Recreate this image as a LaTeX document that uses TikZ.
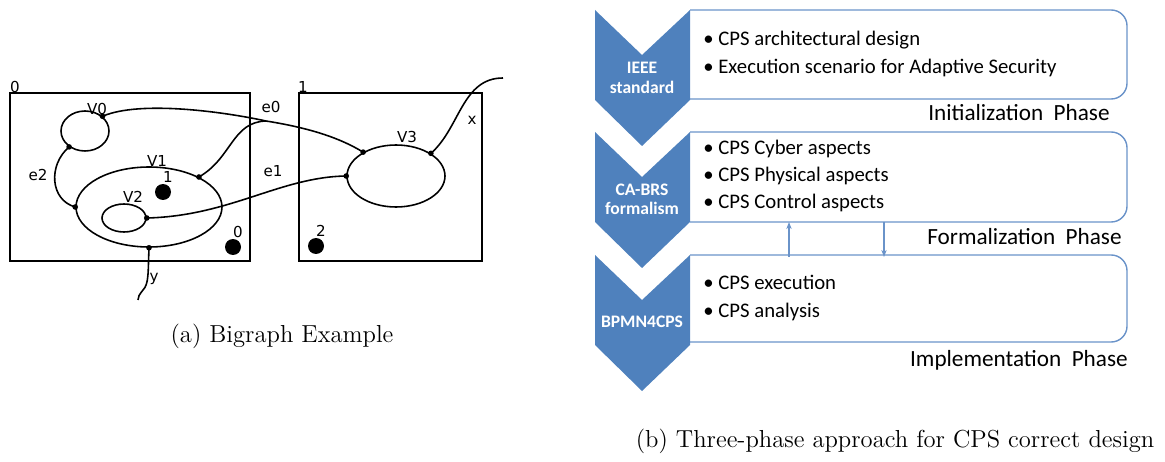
\documentclass[tikz,border=0pt]{standalone}
\usepackage{fontspec}
\newfontfamily\calibrifont{Carlito}
\newfontfamily\dejavufont{DejaVu Sans}
\usepackage{xcolor}
\usetikzlibrary{shapes,arrows,positioning,calc,arrows.meta}
\definecolor{chevblue}{HTML}{4F81BD}
\definecolor{boxblue}{HTML}{6A93C9}

\begin{document}
\begin{tikzpicture}[x=0.02cm, y=-0.02cm,
    place/.style={ellipse, draw, line width=0.9pt, inner sep=0pt},
    site/.style={circle, fill=black, inner sep=0pt, minimum size=0.32cm},
    link/.style={line width=0.9pt},
    lbl/.style={font=\dejavufont\fontsize{8.6}{10}\selectfont, inner sep=0pt},
    chev/.style={fill=chevblue, draw=none},
    chevtext/.style={text=white, align=center, font=\calibrifont\bfseries\fontsize{10}{11}\selectfont},
    phasebox/.style={draw=boxblue, line width=0.8pt, rounded corners=9pt},
    items/.style={anchor=west, align=left, inner sep=0pt, font=\calibrifont\fontsize{11.8}{15.4}\selectfont},
    phase/.style={anchor=east, inner sep=0pt, font=\calibrifont\fontsize{13.2}{15}\selectfont},
    arr/.style={boxblue, line width=0.8pt, -{Stealth[length=4pt, width=3pt]}},
    capt/.style={font=\fontsize{14}{17}\selectfont}]
    \useasboundingbox (0,0) rectangle (1165,462);

    % (a) bigraph: roots
    \draw[link] (10,93) rectangle (250,261); \node[lbl] (r0) at (15,87) {0};
    \draw[link] (299,93) rectangle (482,261); \node[lbl] (r1) at (303,87) {1};

    % nodes and sites
    \node[place, minimum width=0.96cm, minimum height=0.8cm] (v0) at (85,131) {};
    \node[place, minimum width=2.92cm, minimum height=1.6cm] (v1) at (149,207) {};
    \node[place, minimum width=0.88cm, minimum height=0.56cm] (v2) at (124,218) {};
    \node[place, minimum width=1.96cm, minimum height=1.24cm] (v3) at (396,176) {};
    \node[lbl] at (97,109) {V0}; \node[lbl] at (157,161) {V1};
    \node[lbl] at (133,197) {V2}; \node[lbl] at (407,137) {V3};
    \node[site] (s1) at (163,192) {}; \node[lbl] at (168,177) {1};
    \node[site] (s0) at (233,247) {}; \node[lbl] at (238,232) {0};
    \node[site] (s2) at (316,246) {}; \node[lbl] at (321,231) {2};

    % links
    \coordinate (e0j) at (266,121);
    \coordinate (xname) at (503,78);
    \coordinate (yname) at (138,300);
    \draw[link] (v0.40) .. controls (140,100) and (225,112) .. (e0j) .. controls (310,128) and (340,138) .. (v3.144);
    \draw[link] (v1.31) .. controls (232,158) and (232,122) .. (e0j);
    \draw[link] (v2.0) .. controls (230,216) and (280,177) .. (v3.180);
    \draw[link] (v0.225) .. controls (48,165) and (50,200) .. (v1.180);
    \draw[link] (v3.33) .. controls (460,128) and (462,78) .. (xname);
    \draw[link] (v1.270) .. controls (148,272) and (149,284) .. (143,290) .. controls (139,295) and (138,297) .. (yname);
    \foreach \p in {v0.40, v0.225, v1.31, v1.180, v1.270, v2.0, v3.144, v3.33, v3.180}
        \fill (\p) circle (1.6pt);
    \node[lbl] at (271,107) {e0}; \node[lbl] at (273,171) {e1};
    \node[lbl] at (38,175) {e2}; \node[lbl] at (472,120) {x};
    \node[lbl] at (154,279) {y};

    % (b) three phases
    \foreach \t/\b in {10/99, 132/222, 255/342}
        \draw[phasebox] (690,\t) -- (1127,\t) -- (1127,\b) -- (690,\b);
    \foreach \t in {10, 132, 255}
        \fill[chev] (595,\t) -- (642,\t+45) -- (690,\t) -- (690,\t+90) -- (642,\t+136) -- (595,\t+90) -- cycle;
    \node[chevtext] (ieee) at (642,78) {IEEE\\standard};
    \node[chevtext] (cabrs) at (642,199) {CA-BRS\\formalism};
    \node[chevtext] (bpmn) at (642,322) {BPMN4CPS};

    \node[items] (init) at (703,54) {\textbullet\ CPS architectural design\\\textbullet\ Execution scenario for Adaptive Security};
    \node[items] (form) at (703,176) {\textbullet\ CPS Cyber aspects\\\textbullet\ CPS Physical aspects\\\textbullet\ CPS Control aspects};
    \node[items] (impl) at (703,298) {\textbullet\ CPS execution\\\textbullet\ CPS analysis};

    \node[phase] (pinit) at (1110,113) {Initialization\ \ Phase};
    \node[phase] (pform) at (1122,237) {Formalization\ \ Phase};
    \node[phase] (pimpl) at (1128,360) {Implementation\ \ Phase};

    \coordinate (fbot) at (789,222); \coordinate (itop) at (789,257);
    \coordinate (fbot2) at (884,222); \coordinate (itop2) at (884,257);
    \draw[arr] (itop) -- (fbot);
    \draw[arr] (fbot2) -- (itop2);

    % captions
    \node[capt] (capa) at (282,336) {(a) Bigraph Example};
    \node[capt] (capb) at (895,441) {(b) Three-phase approach for CPS correct design};
\end{tikzpicture}
\end{document}
